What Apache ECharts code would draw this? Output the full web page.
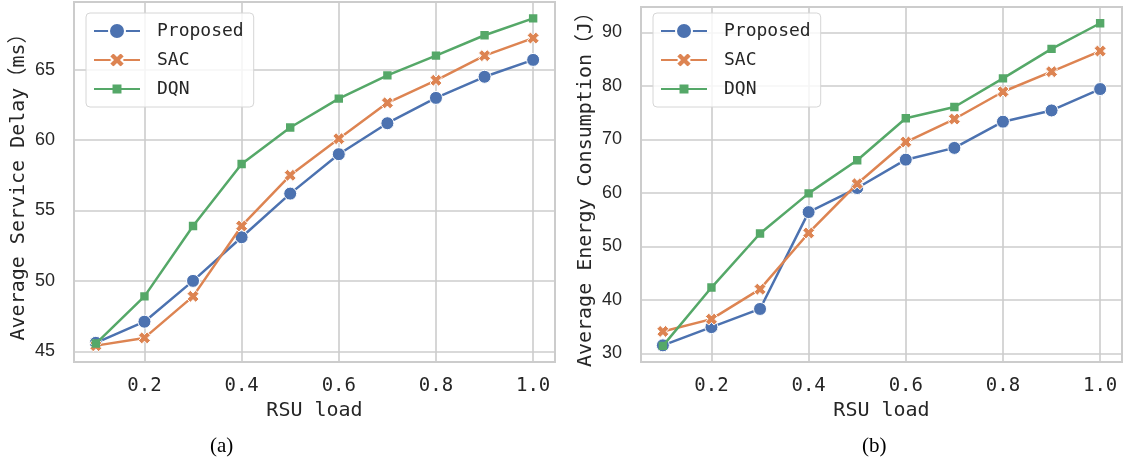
<!DOCTYPE html>
<html>
<head>
<meta charset="utf-8">
<script src="https://cdn.jsdelivr.net/npm/echarts@6/dist/echarts.min.js"></script>
<style>html,body{margin:0;padding:0;background:#fff;}#c{width:1124px;height:465px;}</style>
</head>
<body>
<div id="c"></div>
<script>
const rsuLoad = [0.1, 0.2, 0.3, 0.4, 0.5, 0.6, 0.7, 0.8, 0.9, 1.0];
const seriesNames = ['Proposed', 'SAC', 'DQN'];
const delayProposed = [45.6, 47.1, 50.0, 53.1, 56.2, 59.0, 61.2, 63.0, 64.5, 65.7];
const delaySAC = [45.4, 45.95, 48.9, 53.9, 57.5, 60.1, 62.65, 64.25, 66.0, 67.25];
const delayDQN = [45.55, 48.9, 53.9, 58.3, 60.9, 62.95, 64.6, 66.0, 67.45, 68.65];
const energyProposed = [31.5, 34.9, 38.3, 56.4, 60.9, 66.2, 68.4, 73.3, 75.4, 79.4];
const energySAC = [34.1, 36.4, 42.0, 52.5, 61.7, 69.5, 73.8, 78.9, 82.65, 86.5];
const energyDQN = [31.4, 42.3, 52.4, 59.9, 66.1, 73.95, 76.05, 81.4, 86.9, 91.7];
const xTitle = 'RSU load';
const yTitles = ['Average Service Delay（ms）', 'Average Energy Consumption（J）'];
const captions = ['(a)', '(b)'];

const colors = ['#4c72b0', '#dd8452', '#55a868'];
const xMarker = 'path://M56.2,197.6L100,153.7L143.8,197.6L197.6,143.8L153.7,100L197.6,56.2L143.8,2.4L100,46.3L56.2,2.4L2.4,56.2L46.3,100L2.4,143.8Z';
const sqMarker = 'path://M0,0L0.01,0.01Z M100,100L99.99,99.99Z M22,22L78,22L78,78L22,78Z';
const symbols = ['circle', xMarker, sqMarker];
const symbolSizes = [13, 12, 15];
const borderWidths = [1, 1, 0];

function pad(arrs) {
  let mn = Infinity, mx = -Infinity;
  arrs.forEach(a => a.forEach(v => { mn = Math.min(mn, v); mx = Math.max(mx, v); }));
  const m = (mx - mn) * 0.05;
  return [mn - m, mx + m];
}
const xr = pad([rsuLoad]);
const yr = [pad([delayProposed, delaySAC, delayDQN]), pad([energyProposed, energySAC, energyDQN])];
const dataSets = [[delayProposed, delaySAC, delayDQN], [energyProposed, energySAC, energyDQN]];

const monoFont = '"DejaVu Sans Mono", "Noto Sans CJK SC", monospace';
const textColor = '#262626';
const gridColor = '#cccccc';

const grids = [
  {left: 74, top: 2, width: 481, height: 360},
  {left: 641, top: 2, width: 481, height: 360}
];

const option = {
  animation: false,
  backgroundColor: '#fff',
  grid: grids.map(g => Object.assign({show: true, borderColor: gridColor, borderWidth: 2, backgroundColor: '#fff'}, g)),
  xAxis: [0, 1].map(i => ({
    type: 'value', gridIndex: i, min: xr[0], max: xr[1], splitNumber: 5,
    name: xTitle, nameLocation: 'middle', nameGap: 37,
    nameTextStyle: {fontFamily: monoFont, fontSize: 20, color: textColor},
    axisLine: {show: false}, axisTick: {show: false},
    axisLabel: {fontFamily: monoFont, fontSize: 19, color: textColor, margin: 15,
      showMinLabel: false, showMaxLabel: false,
      formatter: v => Math.abs(v - Math.round(v * 5) / 5) < 1e-6 ? v.toFixed(1) : ''},
    splitLine: {show: true, lineStyle: {color: gridColor, width: 1.6}}
  })),
  yAxis: [0, 1].map(i => ({
    type: 'value', gridIndex: i, min: yr[i][0], max: yr[i][1], splitNumber: 5,
    name: yTitles[i], nameLocation: 'middle', nameGap: 45,
    nameTextStyle: {fontFamily: monoFont, fontSize: 20, color: textColor},
    axisLine: {show: false}, axisTick: {show: false},
    axisLabel: {fontFamily: '"Liberation Sans", Arial, sans-serif', fontSize: 18, color: textColor, margin: 19,
      showMinLabel: false, showMaxLabel: false,
      formatter: v => Math.abs(v - Math.round(v)) < 1e-6 ? String(Math.round(v)) : ''},
    splitLine: {show: true, lineStyle: {color: gridColor, width: 1.6}}
  })),
  legend: [86, 653].map(l => ({
    left: l, top: 13, orient: 'vertical', data: seriesNames,
    itemWidth: 46, itemHeight: 20, itemGap: 9,
    padding: [8, 10, 8, 7],
    backgroundColor: 'rgba(255,255,255,0.8)', borderColor: '#d6d6d6', borderWidth: 1, borderRadius: 4,
    textStyle: {fontFamily: monoFont, fontSize: 18, color: textColor, lineHeight: 20, padding: [0, 0, 0, 12]},
    selectedMode: false
  })),
  series: [],
  graphic: captions.map((t, i) => ({
    type: 'text', left: i === 0 ? 210 : 862, top: 436,
    style: {text: t, font: '21px "Liberation Serif", "Times New Roman", serif', fill: '#000'}
  }))
};

[0, 1].forEach(gi => {
  seriesNames.forEach((n, si) => {
    option.series.push({
      type: 'line', name: n, xAxisIndex: gi, yAxisIndex: gi,
      data: rsuLoad.map((x, k) => [x, dataSets[gi][si][k]]),
      symbol: symbols[si], symbolSize: symbolSizes[si], showAllSymbol: true,
      lineStyle: {color: colors[si], width: 2.5},
      itemStyle: {color: colors[si], borderColor: '#fff', borderWidth: borderWidths[si]},
      z: 2 + si
    });
  });
});

const chart = echarts.init(document.getElementById('c'), null, {renderer: 'canvas'});
chart.setOption(option);
</script>
</body>
</html>
